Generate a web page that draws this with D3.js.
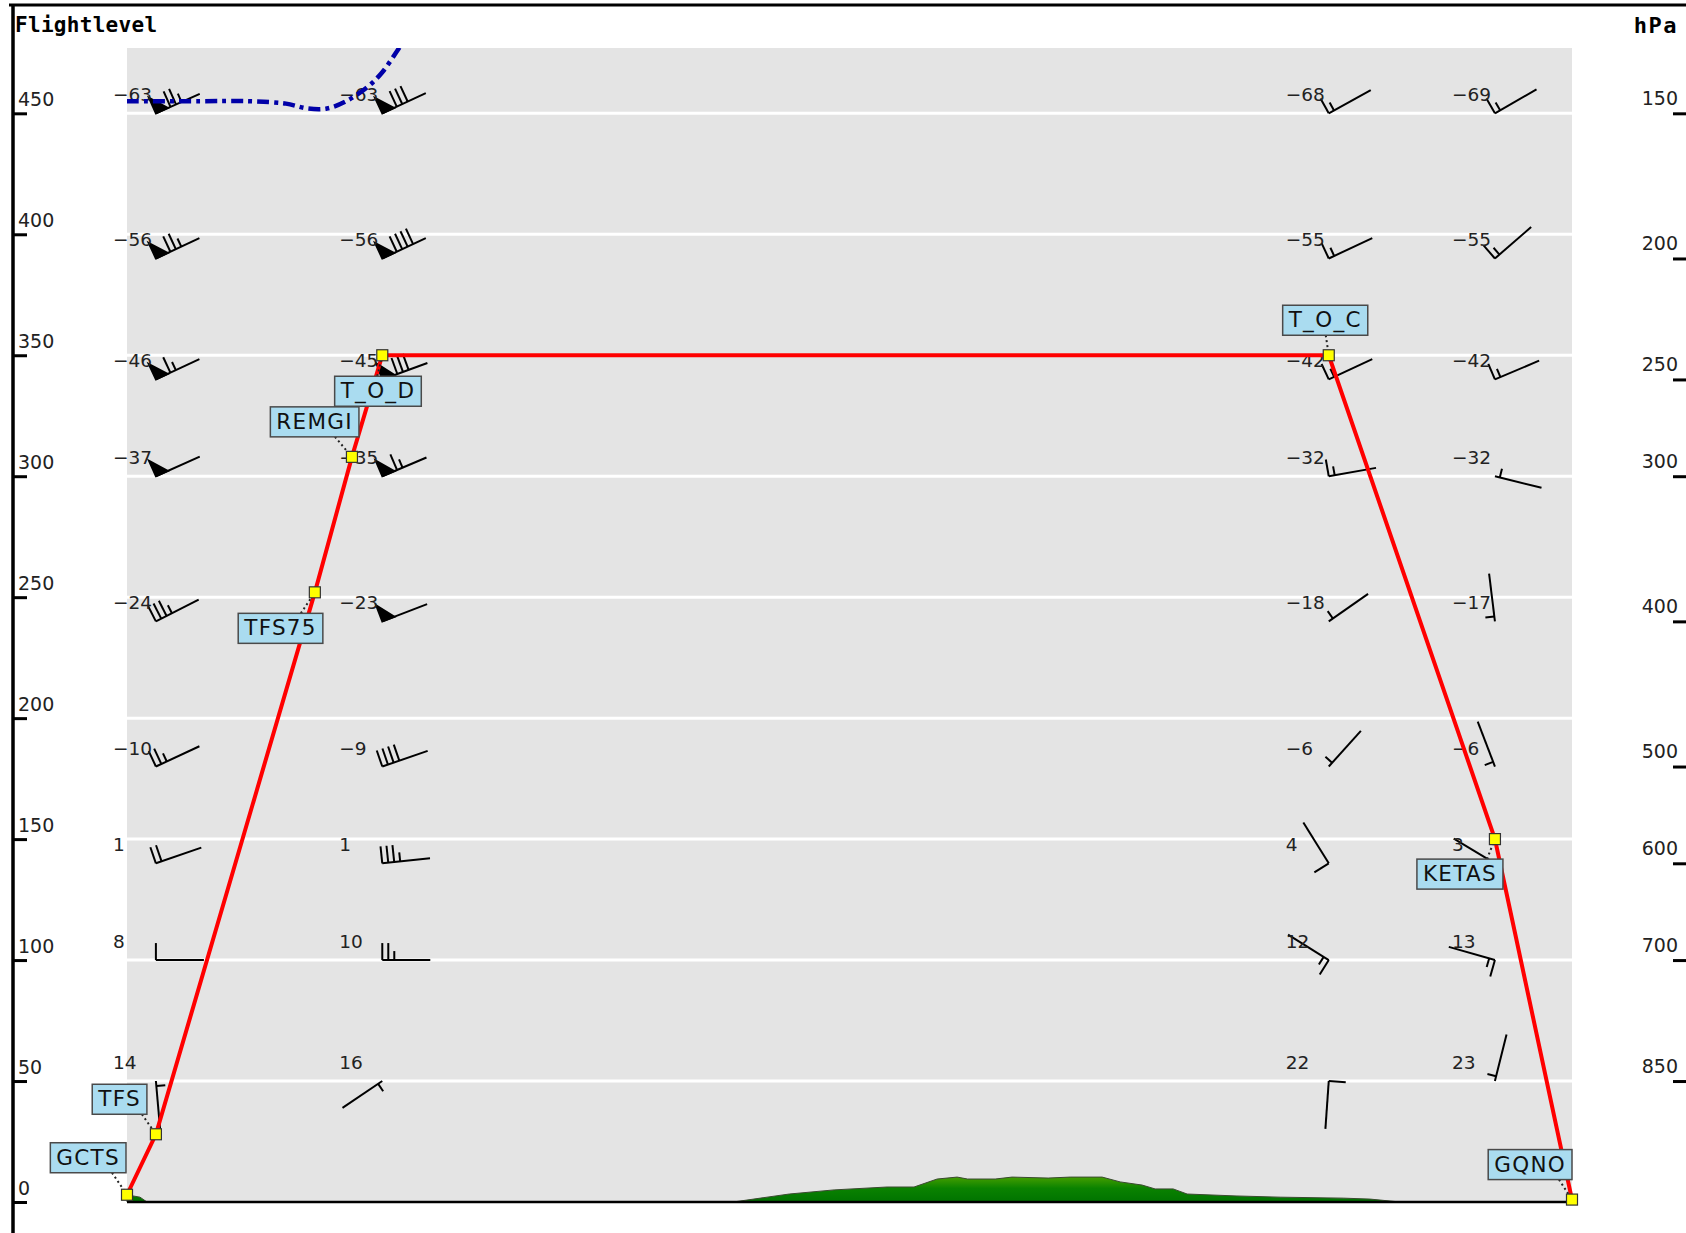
<!DOCTYPE html>
<html>
<head>
<meta charset="utf-8">
<script src="https://cdn.jsdelivr.net/npm/d3@7"></script>
<style>
body { margin: 0; background: #fff; }
svg { display: block; font-family: "DejaVu Sans", sans-serif; }
</style>
</head>
<body>
<div id="chart"></div>
<script>
// route waypoints: distance along route (NM) and flight level
var wptNames = ["GCTS", "TFS", "TFS75", "REMGI", "T_O_D", "T_O_C", "KETAS", "GQNO"];
var wptDist  = [0, 12, 78, 93.4, 106, 499, 568, 600];
var wptFL    = [3, 28, 252, 308, 350, 350, 150, 1];

// axes
var flTicks   = [0, 50, 100, 150, 200, 250, 300, 350, 400, 450];
var hpaLabels = [150, 200, 250, 300, 400, 500, 600, 700, 850];
var hpaFL     = [450, 390, 340, 300, 240, 180, 140, 100, 50];

// wind / temperature columns (one per station, one value per pressure level)
var windDist = [12, 106, 499, 568];
var temps = [
  [-63, -56, -46, -37, -24, -10, 1, 8, 14],
  [-63, -56, -45, -35, -23, -9, 1, 10, 16],
  [-68, -55, -42, -32, -18, -6, 4, 12, 22],
  [-69, -55, -42, -32, -17, -6, 3, 13, 23]
];
var windDir = [
  [246, 245, 245, 246, 243, 245, 251, 270, 355],
  [245, 245, 250, 247, 249, 251, 264, 270, 56],
  [241, 245, 245, 260, 235, 222, 148, 122, 4],
  [240, 229, 247, 284, 173, 159, 121, 106, 194]
];
var windSpd = [
  [75, 75, 65, 50, 35, 25, 20, 10, 5],
  [80, 90, 80, 65, 50, 40, 35, 25, 5],
  [15, 15, 15, 15, 5, 5, 10, 15, 10],
  [15, 15, 15, 5, 5, 5, 10, 15, 5]
];

// tropopause (blue dash-dot)
var tropoDist = [0, 30, 51, 66, 75, 83, 91, 100, 106, 113, 122];
var tropoFL   = [455, 455, 455, 454, 452, 452, 455, 461, 467, 477, 490];

// terrain profile
var terrainDist = [0, 2.5, 5.4, 8.3, 251.7, 275, 293.6, 315.6, 326.8, 336.4, 344.7, 349, 360.5, 367.5, 382.5, 391.6, 404.9, 412.4, 421.5, 426.9, 434.4, 440.2, 460.5, 478.8, 505, 516.2, 528.7, 600];
var terrainFL   = [3, 2.5, 2, 0, 0, 3.3, 5, 6.2, 6.2, 9.5, 10.3, 9.5, 9.5, 10.3, 9.9, 10.3, 10.3, 8.3, 7, 5.4, 5.4, 3.3, 2.5, 2, 1.6, 1.2, 0, 0];

var W = 1686, H = 1233;
var plot = {left: 127, right: 1572, top: 48, bottom: 1202};

var svg = d3.select("#chart").append("svg")
    .attr("width", W)
    .attr("height", H);

var x = d3.scaleLinear().domain([0, 600]).range([plot.left, plot.right]);
var y = d3.scaleLinear().domain([0, 477]).range([plot.bottom, plot.top]);

var defs = svg.append("defs");
defs.append("clipPath").attr("id", "plotclip")
    .append("rect")
    .attr("x", plot.left).attr("y", plot.top)
    .attr("width", plot.right - plot.left).attr("height", plot.bottom - plot.top);

var grad = defs.append("linearGradient")
    .attr("id", "terrain-grad")
    .attr("x1", 0).attr("y1", 0).attr("x2", 0).attr("y2", 1);
grad.append("stop").attr("offset", "0%").attr("stop-color", "#449e00");
grad.append("stop").attr("offset", "45%").attr("stop-color", "#0a8200");
grad.append("stop").attr("offset", "100%").attr("stop-color", "#007300");

//grey plot background
svg.append("rect")
    .attr("x", plot.left).attr("y", plot.top)
    .attr("width", plot.right - plot.left)
    .attr("height", plot.bottom - plot.top)
    .attr("fill", "#e4e4e4");

//white grid lines every 50 FL
svg.append("g").selectAll("line")
    .data(flTicks.filter(function(d){ return d > 0; }))
    .join("line")
    .attr("x1", plot.left).attr("x2", plot.right)
    .attr("y1", function(d){ return y(d); })
    .attr("y2", function(d){ return y(d); })
    .attr("stroke", "#fff")
    .attr("stroke-width", 3);

//terrain
var terrain = terrainDist.map(function(d, i){ return {d: d, fl: terrainFL[i]}; });
var area = d3.area()
    .x(function(d){ return x(d.d); })
    .y0(y(0))
    .y1(function(d){ return y(d.fl); });
svg.append("path")
    .attr("d", area(terrain))
    .attr("fill", "url(#terrain-grad)")
    .attr("stroke", "#3a4a30")
    .attr("stroke-width", 1);

//ground line
svg.append("line")
    .attr("x1", plot.left).attr("x2", plot.right)
    .attr("y1", y(0)).attr("y2", y(0))
    .attr("stroke", "#000")
    .attr("stroke-width", 2.5);

//frame
svg.append("line")
    .attr("x1", 9).attr("x2", W).attr("y1", 5).attr("y2", 5)
    .attr("stroke", "#000").attr("stroke-width", 3);
svg.append("line")
    .attr("x1", 13).attr("x2", 13).attr("y1", 4).attr("y2", H)
    .attr("stroke", "#000").attr("stroke-width", 3.5);

//left axis (flight level)
var axL = svg.append("g")
    .attr("transform", "translate(13,0)")
    .call(d3.axisRight(y).tickValues(flTicks).tickSize(14));
axL.select(".domain").remove();
axL.attr("font-size", 19).attr("font-family", "DejaVu Sans, sans-serif");
axL.selectAll(".tick line").attr("stroke", "#000").attr("stroke-width", 3);
axL.selectAll(".tick text")
    .attr("x", 5).attr("y", -8).attr("dy", null)
    .attr("text-anchor", "start")
    .attr("fill", "#222");

//right axis (hPa)
var axR = svg.append("g")
    .attr("transform", "translate(" + W + ",0)")
    .call(d3.axisLeft(y).tickValues(hpaFL).tickSize(13)
        .tickFormat(function(d, i){ return hpaLabels[i]; }));
axR.select(".domain").remove();
axR.attr("font-size", 19).attr("font-family", "DejaVu Sans, sans-serif");
axR.selectAll(".tick line").attr("stroke", "#000").attr("stroke-width", 3);
axR.selectAll(".tick text")
    .attr("x", -8).attr("y", -9).attr("dy", null)
    .attr("fill", "#222");

//axis titles
svg.append("text")
    .attr("x", 15).attr("y", 32)
    .attr("font-family", "DejaVu Sans Mono, monospace")
    .attr("font-weight", "bold")
    .attr("font-size", 21)
    .attr("letter-spacing", 0.3)
    .text("Flightlevel");
svg.append("text")
    .attr("x", 1678).attr("y", 33)
    .attr("text-anchor", "end")
    .attr("font-family", "DejaVu Sans Mono, monospace")
    .attr("font-weight", "bold")
    .attr("font-size", 22)
    .attr("letter-spacing", 1.5)
    .text("hPa");

//wind barb: staff from station, feathers at the station end
function barb(g, sx, sy, dirDeg, spd){
    var a = dirDeg * Math.PI / 180;
    var ux = -Math.sin(a), uy = Math.cos(a);
    var px = Math.cos(a), py = Math.sin(a);
    var L = 48;
    g.append("line")
        .attr("x1", sx).attr("y1", sy)
        .attr("x2", sx + L * ux).attr("y2", sy + L * uy);
    var flags = Math.floor(spd / 50);
    var rest = spd - flags * 50;
    var longs = Math.floor(rest / 10);
    var shorts = Math.round((rest - longs * 10) / 5);
    var pos = 0;
    for(var f = 0; f < flags; f++){
        var bx = sx + pos * ux, by = sy + pos * uy;
        g.append("polygon")
            .attr("points", [
                [bx, by],
                [bx + 17 * px, by + 17 * py],
                [bx + 13 * ux, by + 13 * uy]
            ].map(function(p){ return p.join(","); }).join(" "))
            .attr("fill", "#000");
        pos += 16;
    }
    for(var l = 0; l < longs; l++){
        var lx = sx + pos * ux, ly = sy + pos * uy;
        g.append("line")
            .attr("x1", lx).attr("y1", ly)
            .attr("x2", lx + 17 * px).attr("y2", ly + 17 * py);
        pos += 6;
    }
    if(shorts > 0){
        if(flags + longs == 0) pos = 5;
        var qx = sx + pos * ux, qy = sy + pos * uy;
        g.append("line")
            .attr("x1", qx).attr("y1", qy)
            .attr("x2", qx + 9 * px).attr("y2", qy + 9 * py);
    }
}

var windG = svg.append("g")
    .attr("stroke", "#000")
    .attr("stroke-width", 2);
var tempG = svg.append("g")
    .attr("font-size", 18.5)
    .attr("fill", "#222");

windDist.forEach(function(dist, j){
    hpaFL.forEach(function(fl, i){
        var sx = x(dist), sy = y(fl);
        var t = temps[j][i];
        tempG.append("text")
            .attr("x", sx - 43).attr("y", sy - 12)
            .text(t < 0 ? "\u2212" + (-t) : t);
        barb(windG, sx, sy, windDir[j][i], windSpd[j][i]);
    });
});

//tropopause
var tropo = tropoDist.map(function(d, i){ return {d: d, fl: tropoFL[i]}; });
svg.append("path")
    .attr("clip-path", "url(#plotclip)")
    .attr("d", d3.line()
        .curve(d3.curveCatmullRom)
        .x(function(d){ return x(d.d); })
        .y(function(d){ return y(d.fl); })(tropo))
    .attr("fill", "none")
    .attr("stroke", "#0000a8")
    .attr("stroke-width", 4.5)
    .attr("stroke-dasharray", "12,5,4,5");

//route
var wpts = wptNames.map(function(n, i){ return {name: n, d: wptDist[i], fl: wptFL[i]}; });
svg.append("path")
    .attr("d", d3.line()
        .x(function(d){ return x(d.d); })
        .y(function(d){ return y(d.fl); })(wpts))
    .attr("fill", "none")
    .attr("stroke", "#ff0000")
    .attr("stroke-width", 4);

//label placement: side -1 above / 1 below, dx = box right edge offset, lx = leader start offset
var labelPlace = {
    GCTS:  {side: -1, dx: -1,  lx: -15, gap: 22},
    TFS:   {side: -1, dx: -9,  lx: -14, gap: 20},
    TFS75: {side: 1,  dx: 8,   lx: -14, gap: 21},
    REMGI: {side: -1, dx: 7,   lx: -17, gap: 20},
    T_O_D: {side: 1,  dx: 39,  lx: -5,  gap: 21},
    T_O_C: {side: -1, dx: 39,  lx: -3,  gap: 20},
    KETAS: {side: 1,  dx: 8,   lx: -8,  gap: 20},
    GQNO:  {side: -1, dx: 0,   lx: -13, gap: 20}
};

var leaderG = svg.append("g");
var squareG = svg.append("g");
var labelG = svg.append("g");

wpts.forEach(function(w){
    var cx = x(w.d), cy = y(w.fl);
    var pl = labelPlace[w.name];
    var g = labelG.append("g");
    var rect = g.append("rect");
    var txt = g.append("text")
        .attr("font-size", 21.5)
        .attr("letter-spacing", 1.3)
        .attr("fill", "#111")
        .text(w.name);
    var tw = txt.node().getComputedTextLength();
    var bw = tw + 12;
    var bh = 30;
    var right = cx + pl.dx;
    var left = right - bw;
    var top = pl.side < 0 ? cy - pl.gap - bh : cy + pl.gap;
    rect.attr("x", left).attr("y", top)
        .attr("width", bw).attr("height", bh)
        .attr("fill", "#aadcf0")
        .attr("stroke", "#4a4a4a")
        .attr("stroke-width", 1.5);
    txt.attr("x", left + 6).attr("y", top + 22);

    leaderG.append("line")
        .attr("x1", cx + pl.lx).attr("y1", pl.side < 0 ? top + bh : top)
        .attr("x2", cx).attr("y2", cy)
        .attr("stroke", "#222")
        .attr("stroke-width", 2)
        .attr("stroke-dasharray", "2,3");

    squareG.append("rect")
        .attr("x", cx - 5.5).attr("y", cy - 5.5)
        .attr("width", 11).attr("height", 11)
        .attr("fill", "#ffff00")
        .attr("stroke", "#333")
        .attr("stroke-width", 1.2);
});
</script>
</body>
</html>
